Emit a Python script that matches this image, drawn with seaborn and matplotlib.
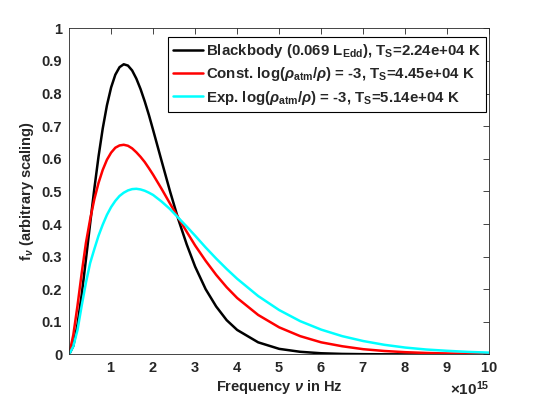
import numpy as np
import pandas as pd
import matplotlib
matplotlib.use('Agg')
import matplotlib.pyplot as plt
import seaborn as sns
from matplotlib.ticker import ScalarFormatter

# frequency grid (units of 1e15 Hz)
freq = [0, 0.1, 0.2, 0.3, 0.4, 0.5, 0.6, 0.7, 0.8, 0.9, 1.0, 1.1, 1.2, 1.3, 1.4,
        1.5, 1.6, 1.7, 1.8, 1.9, 2.0, 2.2, 2.4, 2.6, 2.8, 3.0, 3.25, 3.5, 3.75,
        4.0, 4.5, 5.0, 5.5, 6.0, 6.5, 7.0, 7.5, 8.0, 8.5, 9.0, 9.5, 10.0]

blackbody = [0, 0.026, 0.092, 0.184, 0.291, 0.401, 0.508, 0.607, 0.693, 0.764,
             0.819, 0.858, 0.881, 0.890, 0.886, 0.871, 0.846, 0.814, 0.776, 0.734,
             0.688, 0.594, 0.501, 0.414, 0.337, 0.269, 0.200, 0.147, 0.105,
             0.075, 0.037, 0.017, 0.008, 0.0035, 0.0015, 0.0007, 0.0003, 0.0001,
             0.00004, 0.00002, 0.00001, 0]
const_atm = [0, 0.06, 0.15, 0.25, 0.342, 0.414, 0.476, 0.526, 0.566, 0.597,
             0.619, 0.634, 0.641, 0.643, 0.640, 0.632, 0.620, 0.606, 0.590, 0.571,
             0.551, 0.508, 0.463, 0.419, 0.376, 0.334, 0.287, 0.244, 0.206,
             0.173, 0.121, 0.083, 0.056, 0.037, 0.025, 0.016, 0.0105, 0.0068,
             0.0044, 0.0028, 0.0018, 0.0011]
exp_atm = [0, 0.025, 0.075, 0.15, 0.22, 0.28, 0.323, 0.364, 0.398, 0.428,
           0.452, 0.471, 0.486, 0.496, 0.503, 0.507, 0.508, 0.506, 0.502, 0.496,
           0.489, 0.469, 0.446, 0.419, 0.392, 0.364, 0.328, 0.294, 0.262,
           0.232, 0.179, 0.136, 0.102, 0.076, 0.056, 0.041, 0.0295, 0.021,
           0.015, 0.011, 0.0077, 0.0054]

labels = [r'Blackbody (0.069 L$_{\mathbf{Edd}}$), T$_{\mathbf{S}}$=2.24e+04 K',
          r'Const. log($\rho_{\mathbf{atm}}$/$\rho$) = -3, T$_{\mathbf{S}}$=4.45e+04 K',
          r'Exp. log($\rho_{\mathbf{atm}}$/$\rho$) = -3, T$_{\mathbf{S}}$=5.14e+04 K']
colors = ['black', 'red', 'cyan']

df = pd.concat([
    pd.DataFrame({'nu': np.array(freq) * 1e15, 'f': vals, 'model': lab})
    for vals, lab in zip([blackbody, const_atm, exp_atm], labels)
])


class Fixed15(ScalarFormatter):
    def _set_order_of_magnitude(self):
        self.orderOfMagnitude = 15


sns.set_theme(style='white')
plt.rcParams['font.family'] = ['Liberation Sans', 'DejaVu Sans']
plt.rcParams['font.weight'] = 'bold'
plt.rcParams['mathtext.fontset'] = 'custom'
plt.rcParams['mathtext.rm'] = 'Liberation Sans:bold'
plt.rcParams['mathtext.it'] = 'Liberation Sans:italic'
plt.rcParams['mathtext.bf'] = 'Liberation Sans:bold'

fig = plt.figure(figsize=(5.4, 4.0), dpi=100)
ax = fig.add_axes([0.128, 0.114, 0.778, 0.815])

sns.lineplot(data=df, x='nu', y='f', hue='model', palette=colors,
             estimator=None, linewidth=1.8, ax=ax)

ax.set_xlim(0, 1e16)
ax.set_ylim(0, 1)
ax.set_xticks(np.arange(1, 11) * 1e15)
ax.set_yticks(np.arange(0, 1.01, 0.1))
ax.set_yticklabels(['0', '0.1', '0.2', '0.3', '0.4', '0.5', '0.6', '0.7', '0.8', '0.9', '1'])
ax.xaxis.set_major_formatter(Fixed15(useMathText=True))

tc = '#262626'
ax.tick_params(direction='in', top=True, right=True, length=4, width=0.6,
               colors=tc, labelsize=10.5, pad=5)
for s in ax.spines.values():
    s.set_color(tc)
    s.set_linewidth(0.6)
ax.xaxis.get_offset_text().set_fontsize(11)
ax.xaxis.get_offset_text().set_color(tc)

ax.set_xlabel(r'Frequency $\nu$ in Hz', fontsize=10.5, fontweight='bold', color=tc, labelpad=2)
ax.set_ylabel(r'f$_\nu$ (arbitrary scaling)', fontsize=10.5, fontweight='bold', color=tc, labelpad=4)

leg = ax.legend(loc='upper right', bbox_to_anchor=(0.993, 0.974), fontsize=10.8,
                frameon=True, fancybox=False, edgecolor='black', framealpha=1,
                handlelength=2.0, handletextpad=0.2, borderpad=0.35,
                labelspacing=0.35, borderaxespad=0)
leg.get_frame().set_linewidth(0.8)
for t in leg.get_texts():
    t.set_fontweight('bold')

fig.savefig('out.png', dpi=100)
